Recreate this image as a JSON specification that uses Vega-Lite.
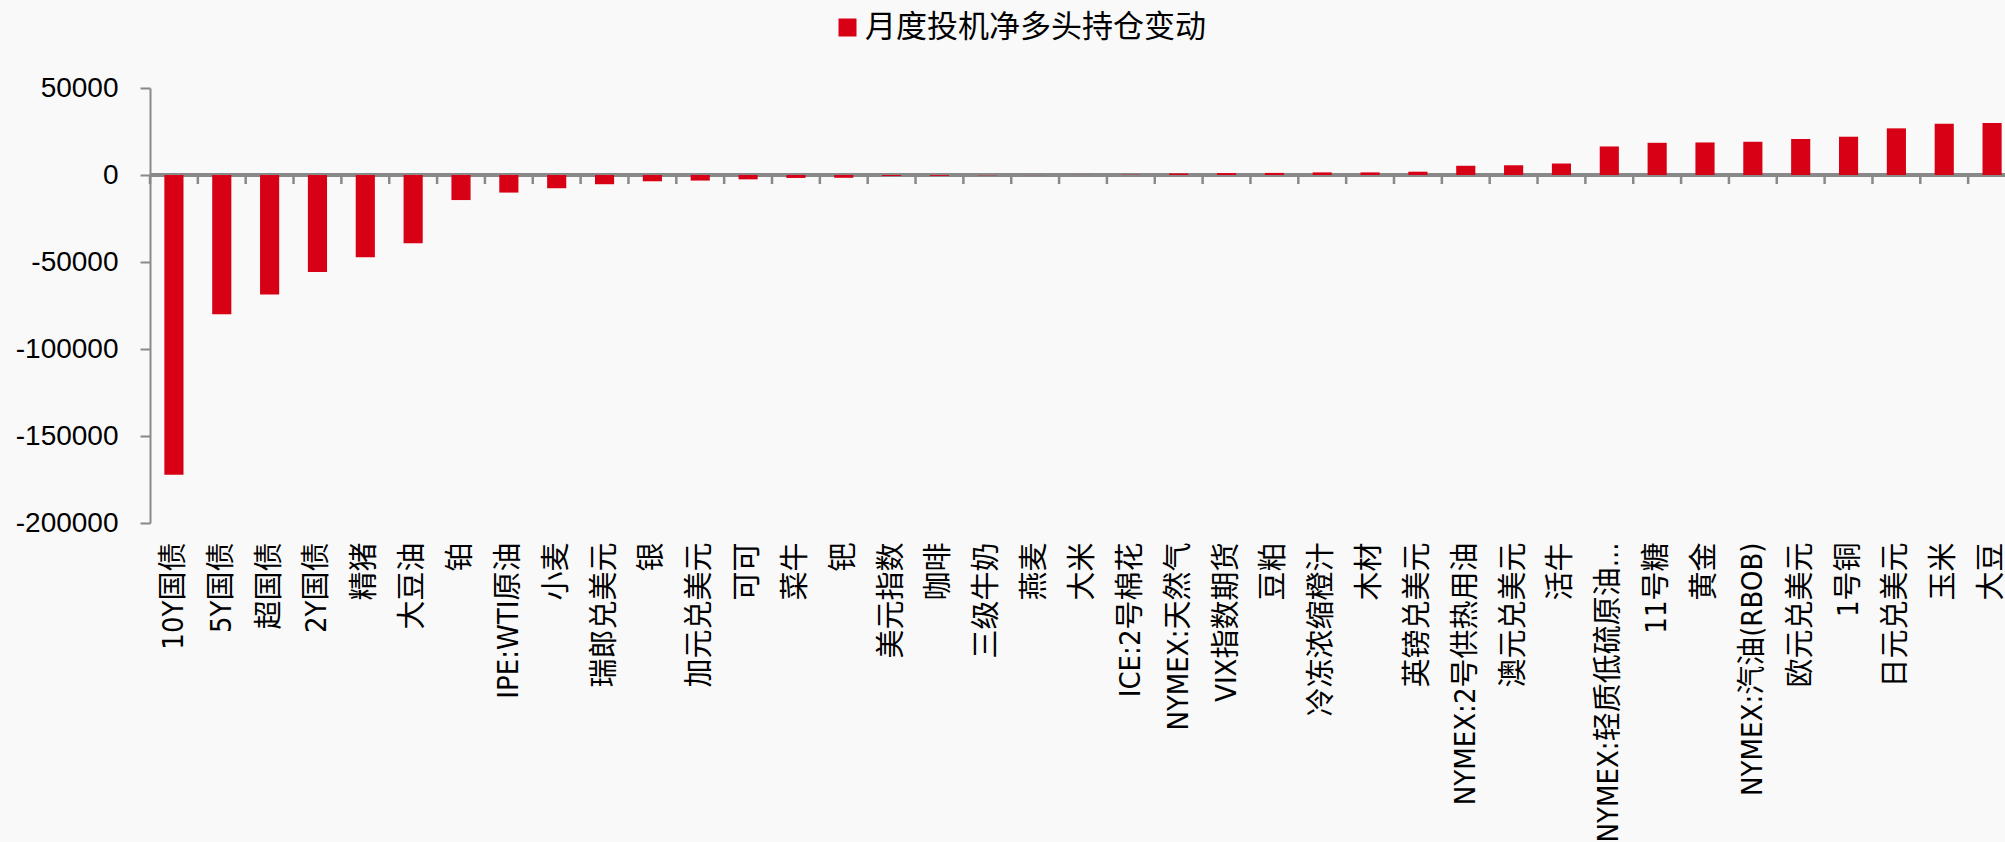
{
  "$schema": "https://vega.github.io/schema/vega-lite/v6.json",
  "width": 1866,
  "height": 435,
  "padding": {"left": 15, "top": 12, "right": 0, "bottom": 0},
  "background": "#f9f9f9",
  "config": {"view": {"stroke": null}},
  "data": {
    "values": [
      {"name": "10Y国债", "value": -172200},
      {"name": "5Y国债", "value": -80000},
      {"name": "超国债", "value": -68700},
      {"name": "2Y国债", "value": -55800},
      {"name": "精猪", "value": -47200},
      {"name": "大豆油", "value": -39200},
      {"name": "铂", "value": -14400},
      {"name": "IPE:WTI原油", "value": -10100},
      {"name": "小麦", "value": -7600},
      {"name": "瑞郎兑美元", "value": -5300},
      {"name": "银", "value": -3600},
      {"name": "加元兑美元", "value": -3200},
      {"name": "可可", "value": -2500},
      {"name": "菜牛", "value": -1700},
      {"name": "钯", "value": -1600},
      {"name": "美元指数", "value": -600},
      {"name": "咖啡", "value": -500},
      {"name": "三级牛奶", "value": -150},
      {"name": "燕麦", "value": -50},
      {"name": "大米", "value": 50},
      {"name": "ICE:2号棉花", "value": 150},
      {"name": "NYMEX:天然气", "value": 800},
      {"name": "VIX指数期货", "value": 1100},
      {"name": "豆粕", "value": 1200},
      {"name": "冷冻浓缩橙汁", "value": 1500},
      {"name": "木材", "value": 1500},
      {"name": "英镑兑美元", "value": 1900},
      {"name": "NYMEX:2号供热用油", "value": 5300},
      {"name": "澳元兑美元", "value": 5600},
      {"name": "活牛", "value": 6600},
      {"name": "NYMEX:轻质低硫原油...", "value": 16400},
      {"name": "11号糖", "value": 18500},
      {"name": "黄金", "value": 18700},
      {"name": "NYMEX:汽油(RBOB)", "value": 19100},
      {"name": "欧元兑美元", "value": 20700},
      {"name": "1号铜", "value": 22000},
      {"name": "日元兑美元", "value": 26800},
      {"name": "玉米", "value": 29500},
      {"name": "大豆", "value": 29900}
    ]
  },
  "layer": [
    {
      "mark": {"type": "rule", "color": "#898989", "strokeWidth": 2.5},
      "encoding": {
        "y": {"datum": 0}
      }
    },
    {
      "mark": {"type": "bar"},
      "encoding": {
        "x": {
          "field": "name", "type": "nominal", "sort": null,
          "scale": {"paddingInner": 0.6, "paddingOuter": 0.3},
          "axis": {
            "orient": "bottom", "title": null, "domain": false, "ticks": false,
            "labelAngle": -90, "labelPadding": 19,
            "labelFont": "DejaVu Sans Condensed, Noto Sans CJK SC", "labelFontSize": 29,
            "labelColor": "#000000", "labelLimit": 0, "labelOverlap": false
          }
        },
        "y": {
          "field": "value", "type": "quantitative",
          "scale": {"domain": [-200000, 50000], "nice": false, "zero": false},
          "axis": {
            "title": null, "values": [-200000, -150000, -100000, -50000, 0, 50000],
            "grid": false, "domainColor": "#898989", "domainWidth": 2,
            "tickColor": "#898989", "tickWidth": 2, "tickSize": 10,
            "labelPadding": 22, "labelFont": "Liberation Sans", "labelFontSize": 28,
            "labelColor": "#000000", "labelExpr": "'' + datum.value"
          }
        },
        "color": {
          "datum": "月度投机净多头持仓变动", "type": "nominal",
          "scale": {"range": ["#d80014"]},
          "legend": {
            "orient": "none", "legendX": 682, "legendY": -76, "title": null,
            "symbolType": "square", "symbolSize": 324, "symbolStrokeWidth": 0,
            "labelFont": "Noto Sans CJK SC", "labelFontSize": 31, "labelColor": "#000000",
            "labelOffset": 2, "padding": 0, "labelLimit": 0
          }
        }
      }
    },
    {
      "mark": {"type": "bar", "color": "#898989", "width": 2.5, "xOffset": -23.92},
      "encoding": {
        "x": {"field": "name", "type": "nominal", "sort": null},
        "y": {"datum": -600},
        "y2": {"datum": -5200}
      }
    }
  ]
}
